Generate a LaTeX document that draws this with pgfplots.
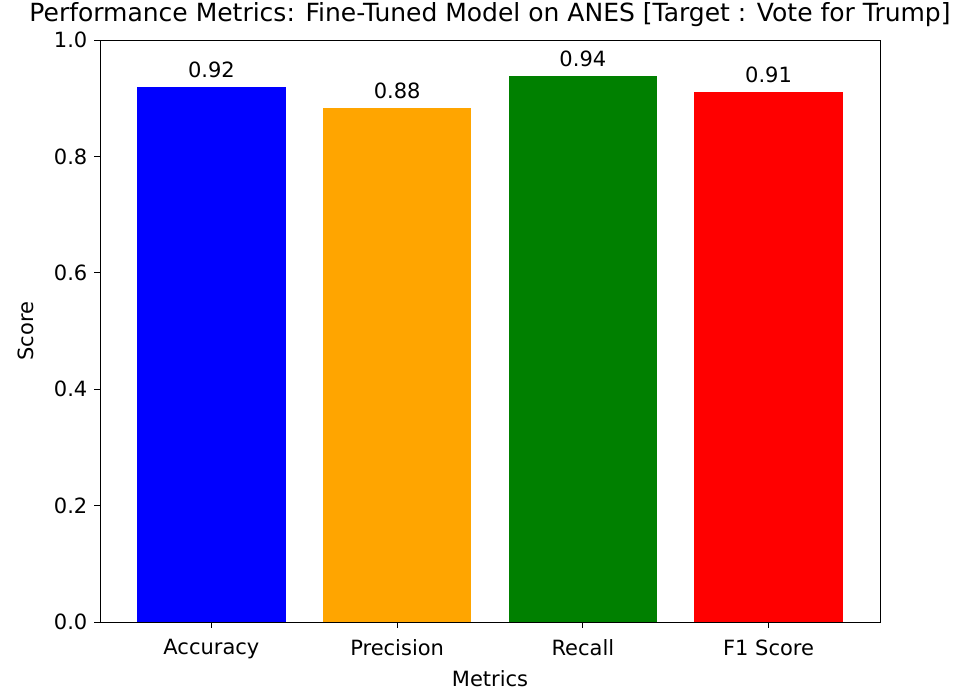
\documentclass[border=0pt]{standalone}
\usepackage{fontspec}
\setmainfont{DejaVu Sans}
\usepackage{pgfplots}
\pgfplotsset{compat=1.18}
\definecolor{mplorange}{RGB}{255,165,0}
\definecolor{mplgreen}{RGB}{0,128,0}
\begin{document}
\begin{tikzpicture}
\path[use as bounding box] (-50pt,-35pt) rectangle (435.5pt,311pt);
\begin{axis}[
  scale only axis,
  width=390pt, height=291pt,
  xmin=-0.6, xmax=3.6,
  ymin=0, ymax=1.0,
  xtick={0,1,2,3},
  xticklabels={Accuracy,Precision,Recall,F1 Score},
  ytick={0,0.2,0.4,0.6,0.8,1.0},
  yticklabel style={/pgf/number format/.cd,fixed,fixed zerofill,precision=1},
  /pgf/number format/assume math mode=true,
  tick align=outside,
  major tick length=2.8pt,
  tick style={black, line width=0.4pt},
  xtick pos=bottom, ytick pos=left,
  ticklabel style={font=\fontsize{10.5}{12}\selectfont},
  xticklabel style={yshift=-2.5pt},
  xlabel={Metrics}, ylabel={Score},
  label style={font=\fontsize{10.5}{12}\selectfont},
  xlabel style={yshift=1.5pt},
  ylabel style={yshift=3pt},
  title={Performance Metrics: Fine-Tuned Model on ANES [Target : Vote for Trump]},
  title style={font=\fontsize{12.5}{14}\selectfont, yshift=-3pt},
  axis line style={black, line width=0.4pt},
  nodes near coords,
  every node near coord/.append style={font=\fontsize{10.5}{12}\selectfont, yshift=1pt, /pgf/number format/.cd, fixed, fixed zerofill, precision=2, assume math mode=true},
]
\addplot[ybar, bar width=0.8, bar shift=0pt, fill=blue, draw=none] coordinates {(0,0.919)};
\addplot[ybar, bar width=0.8, bar shift=0pt, fill=mplorange, draw=none] coordinates {(1,0.884)};
\addplot[ybar, bar width=0.8, bar shift=0pt, fill=mplgreen, draw=none] coordinates {(2,0.939)};
\addplot[ybar, bar width=0.8, bar shift=0pt, fill=red, draw=none] coordinates {(3,0.911)};
\end{axis}
\end{tikzpicture}
\end{document}
